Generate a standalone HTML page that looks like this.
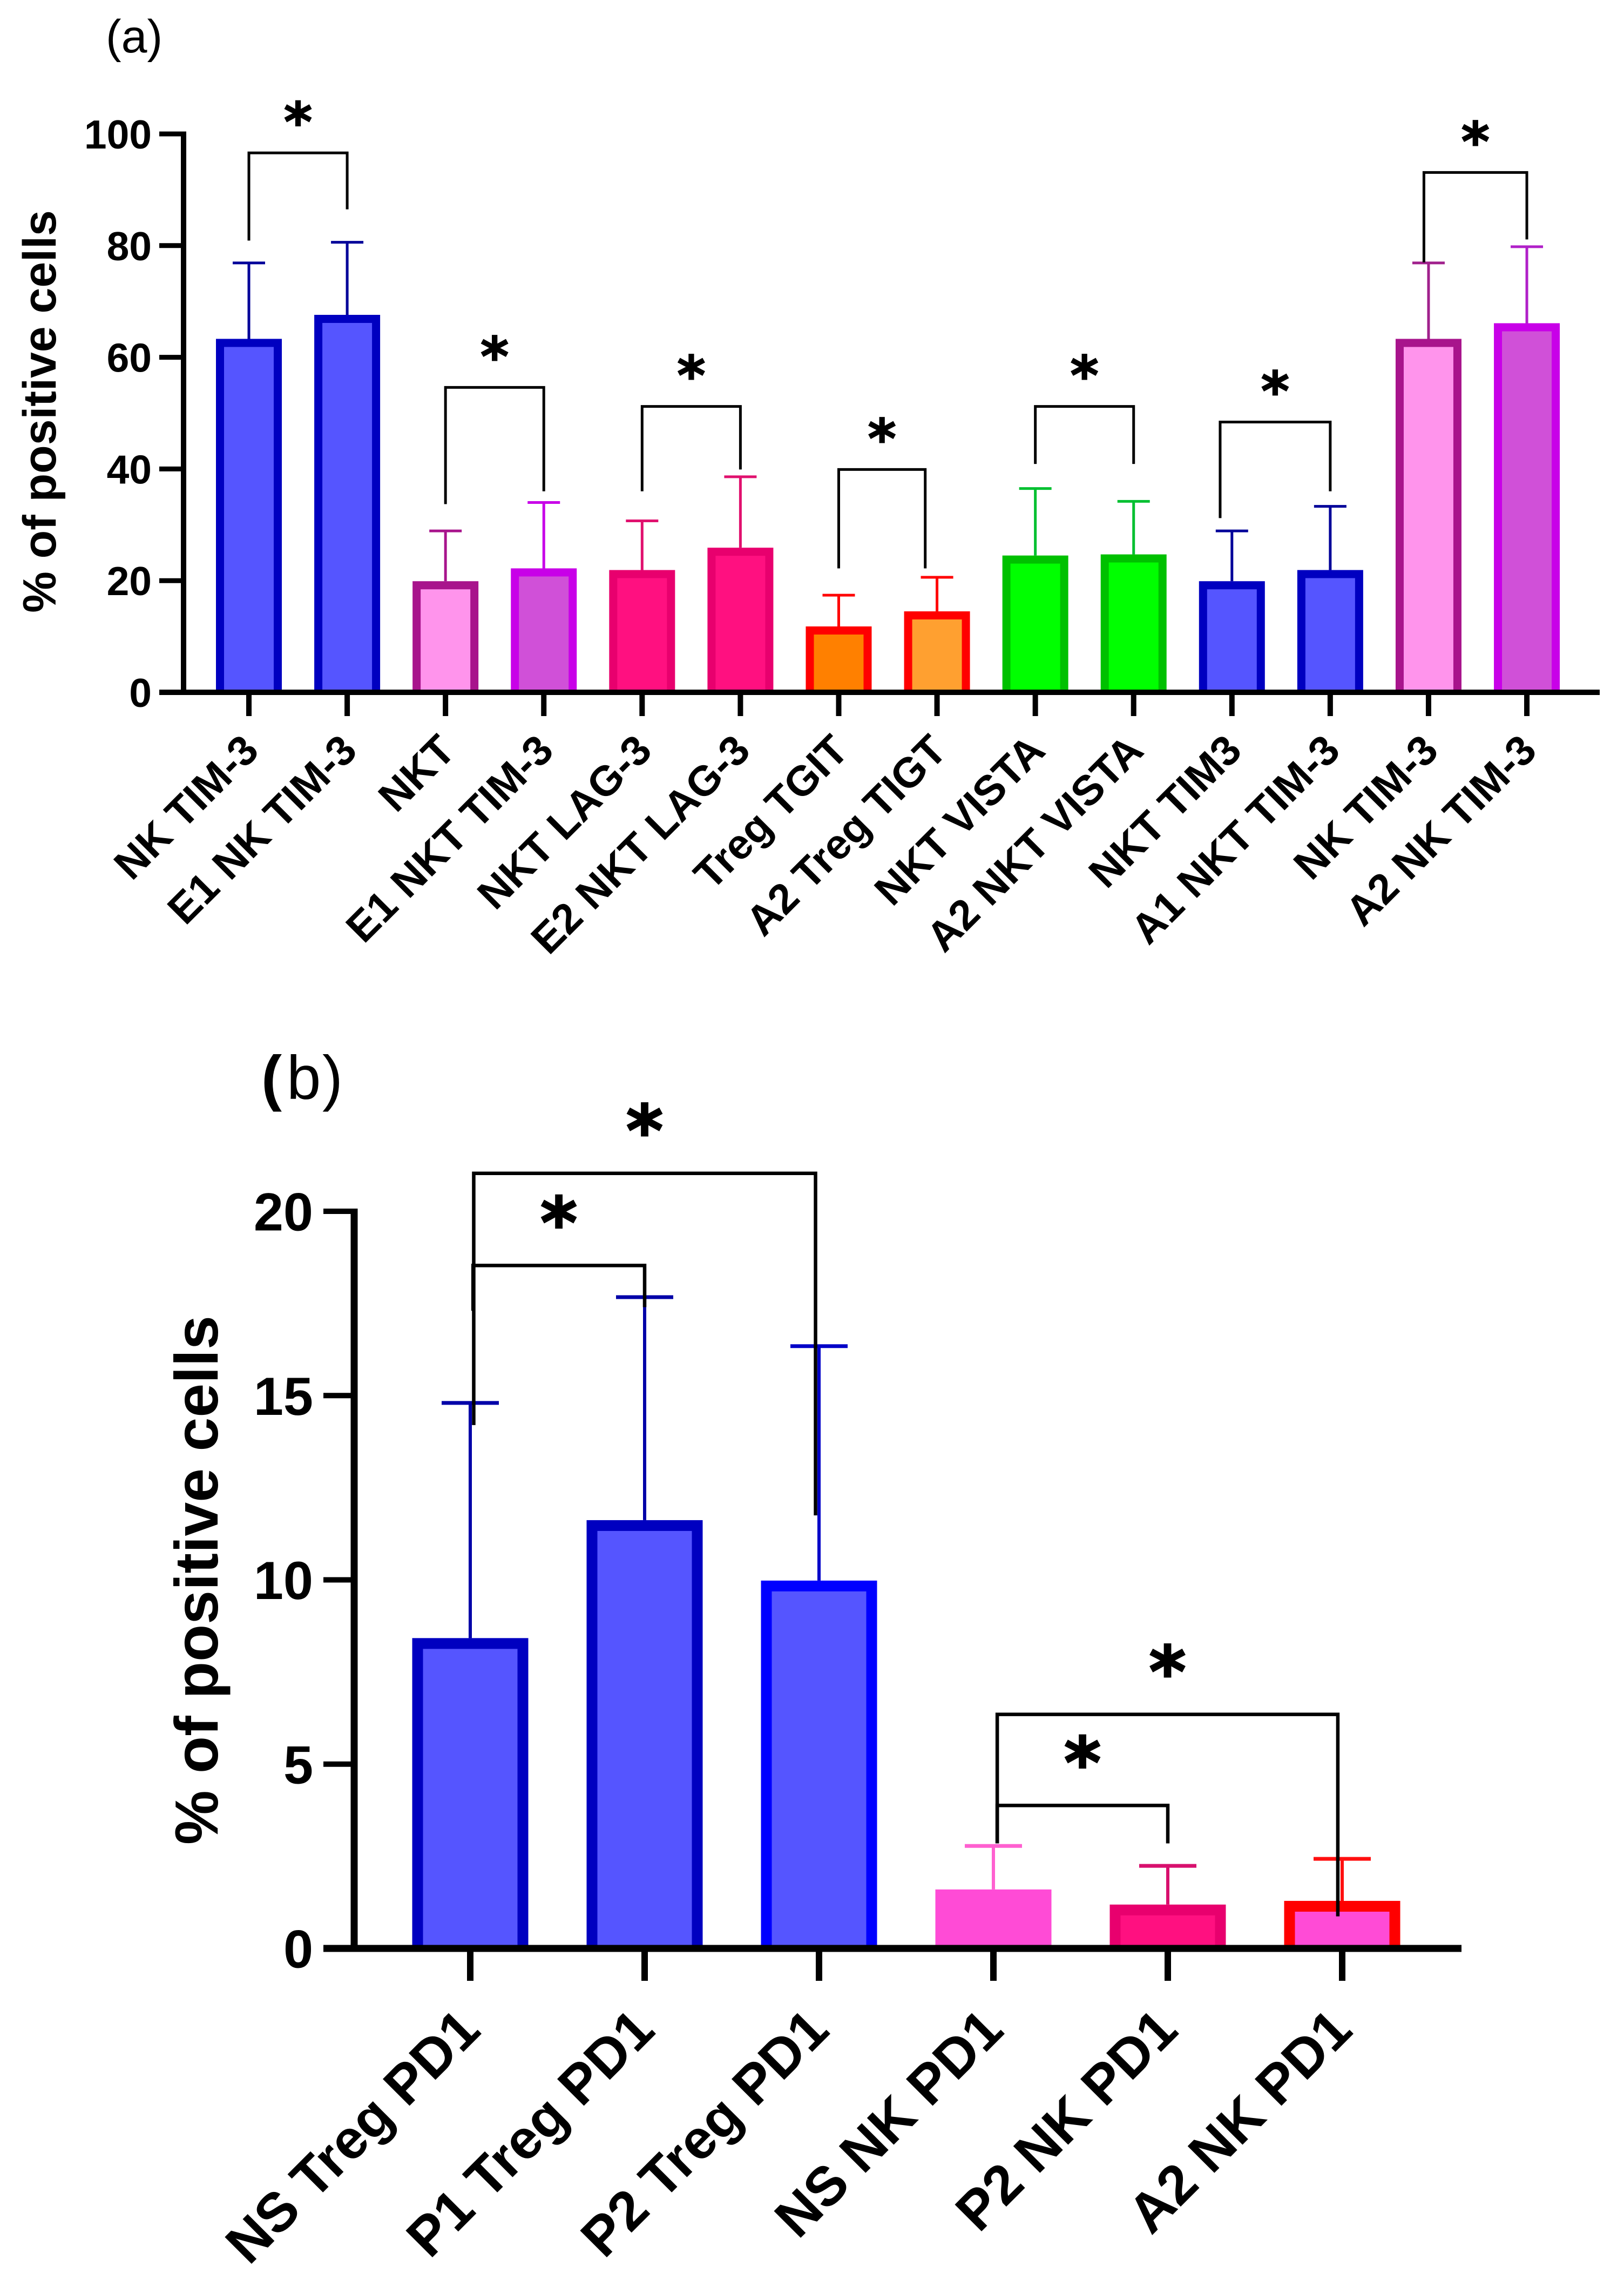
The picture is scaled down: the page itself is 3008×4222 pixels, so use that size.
<!DOCTYPE html>
<html lang="en">
<head>
<meta charset="utf-8">
<title>Percent of positive cells</title>
<style>
html,body{margin:0;padding:0;background:#fff;}
svg{display:block;}
text{font-family:"Liberation Sans",Arial,sans-serif;fill:#000;}
</style>
</head>
<body>
<svg id="figure" xmlns="http://www.w3.org/2000/svg" width="3008" height="4222" viewBox="0 0 3008 4222">
  <rect x="0" y="0" width="3008" height="4222" fill="#ffffff"/>
  <text x="196" y="97" font-size="86">(a)</text>
  <text y="2035" font-size="114"><tspan x="484" font-weight="700">(</tspan><tspan x="531">b</tspan><tspan x="597">)</tspan></text>
  <text transform="translate(103 762) rotate(-90)" text-anchor="middle" font-size="86" font-weight="700">% of positive cells</text>
  <text transform="translate(403 2926) rotate(-90)" text-anchor="middle" font-size="113" font-weight="700">% of positive cells</text>
  <g id="panel-a"></g>
  <g id="panel-b"></g>
</svg>
<script>
// Panel (a) data
const aCategories = ['NK TIM-3','E1 NK TIM-3','NKT','E1 NKT TIM-3','NKT LAG-3','E2 NKT LAG-3','Treg TGIT','A2 Treg TIGT','NKT VISTA','A2 NKT VISTA','NKT TIM3','A1 NKT TIM-3','NK TIM-3','A2 NK TIM-3'];
const aValues = [63.3,67.6,19.9,22.2,21.9,25.9,11.8,14.5,24.5,24.7,19.9,21.9,63.3,66.1];
const aUpper = [76.9,80.6,28.9,34.0,30.7,38.6,17.4,20.6,36.5,34.2,28.9,33.3,76.9,79.8];
const aTicks = [0,20,40,60,80,100];
const aFills = ['#5555ff','#5555ff','#ff94ec','#d050d8','#ff1080','#ff1080','#ff8000','#ffa030','#00ff00','#00ff00','#5555ff','#5555ff','#ff94ec','#d050d8'];
const aStrokes = ['#0000c0','#0000c0','#a8148c','#c800e8','#e8006e','#e8006e','#ff0000','#ff0000','#00c000','#00c000','#0000c0','#0000c0','#a8148c','#c800e8'];
const aErrColors = ['#000099','#000099','#a8148c','#c800e8','#e0106e','#e0106e','#ff0000','#ff0000','#00c030','#00c030','#000099','#000099','#a0208c','#b020c8'];
// Panel (a) significance brackets, in category units and axis values
const aBrFrom = [0,2,4,6,8,9.88,11.953];
const aBrTo = [1,3,5,6.88,9,11,13];
const aBrTop = [96.6,54.6,51.2,39.9,51.2,48.4,93.1];
const aBrLeftEnd = [80.9,33.7,36.0,22.2,40.9,31.2,77.0];
const aBrRightEnd = [86.5,36.0,39.9,22.2,40.9,36.0,81.1];

// Panel (b) data
const bCategories = ['NS Treg PD1','P1 Treg PD1','P2 Treg PD1','NS NK PD1','P2 NK PD1','A2 NK PD1'];
const bValues = [8.42,11.62,9.98,1.6,1.19,1.29];
const bUpper = [14.8,17.67,16.34,2.78,2.24,2.43];
const bTicks = [0,5,10,15,20];
const bFills = ['#5555ff','#5555ff','#5555ff','#ff4bd6','#ff1080','#ff4bd6'];
const bStrokes = ['#0000c0','#0000c0','#0000ff','#ff4bd6','#e8006e','#ff0000'];
const bErrColors = ['#0000a8','#0000a8','#0000c8','#ff60d0','#d8106e','#ff1010'];
const bBrFrom = [0.02,0.016,3.022,3.022];
const bBrTo = [1.98,1,4.975,4];
const bBrTop = [21.03,18.53,6.35,3.88];
const bBrLeftEnd = [14.2,17.3,2.85,2.85];
const bBrRightEnd = [11.75,17.4,0.87,2.85];

const SVGNS = 'http://www.w3.org/2000/svg';
function make(parent, tag, props, content){
  const el = document.createElementNS(SVGNS, tag);
  for (const k in props) el.setAttribute(k, props[k]);
  if (content !== undefined) el.textContent = content;
  parent.appendChild(el);
  return el;
}

function drawPanel(rootId, o){
  const root = document.getElementById(rootId);
  const x = i => o.x0 + o.band * i;
  const y = v => o.y0 - o.unit * v;
  o.categories.forEach((c, i) => {
    const cx = x(i);
    const top = y(o.values[i]);
    const err = make(root, 'line', {x1:cx, x2:cx, y1:top, y2:y(o.upper[i]), stroke:o.errColors[i], 'stroke-width':o.errW});
    
    
    const cap = make(root, 'line', {x1:cx-o.capW/2, x2:cx+o.capW/2, y1:y(o.upper[i]), y2:y(o.upper[i]), stroke:o.errColors[i], 'stroke-width':o.capH});
    
    
    const bar = make(root, 'rect', {x:cx-o.barW/2, y:top, width:o.barW, height:Math.max(0,o.y0-top), fill:o.strokes[i]});
    
    
    const fill = make(root, 'rect', {x:cx-o.barW/2+o.sw, y:top+o.sw, width:o.barW-2*o.sw, height:Math.max(0,o.y0-top-o.sw), fill:o.fills[i]});
    
    
  });
  // axes
  const yAxis = make(root, 'line', {x1:o.axisX, x2:o.axisX, y1:y(o.ticks[o.ticks.length-1])-o.tickH/2, y2:o.y0, stroke:'#000', 'stroke-width':o.axisW});
  
  
  const xAxis = make(root, 'line', {x1:o.tickLeft, x2:o.axisRight, y1:o.y0, y2:o.y0, stroke:'#000', 'stroke-width':o.xAxisW});
  
  
  o.ticks.forEach(t => {
    const tk = make(root, 'line', {x1:o.tickLeft, x2:o.axisX, y1:y(t), y2:y(t), stroke:'#000', 'stroke-width':o.tickH});
    
    
    const lb = make(root, 'text', {x:o.labelRight, y:y(t)+o.tickFont*0.36, 'text-anchor':'end', 'font-size':o.tickFont, 'font-weight':700}, String(t));
    
    
  });
  o.categories.forEach((c, i) => {
    const cx = x(i);
    const tk = make(root, 'line', {x1:cx, x2:cx, y1:o.y0, y2:o.xTickEnd, stroke:'#000', 'stroke-width':o.xTickW});
    
    
    const lb = make(root, 'text', {transform:'translate(' + (cx+o.labelDx) + ' ' + o.labelY + ') rotate(-45)', 'text-anchor':'end', 'font-size':o.labelFont, 'font-weight':700}, c);
    
    
  });
  // brackets
  o.brFrom.forEach((f, i) => {
    const xl = x(f), xr = x(o.brTo[i]), top = y(o.brTop[i]);
    const br = make(root, 'path', {d:'M' + xl + ' ' + y(o.brLeft[i]) + 'V' + top + 'H' + xr + 'V' + y(o.brRight[i]), fill:'none', stroke:'#000', 'stroke-width':o.brW});
    
    
    const st = make(root, 'text', {x:(xl+xr)/2, y:top-o.starGap+o.starFont*o.starShift, 'text-anchor':'middle', 'font-size':o.starFont, 'font-weight':700, stroke:'#000', 'stroke-width':o.starStroke, style:'font-family:"DejaVu Sans",sans-serif'}, '*');
    
    
  });
}

drawPanel('panel-a', {
  key:'a', categories:aCategories, values:aValues, upper:aUpper, ticks:aTicks,
  fills:aFills, strokes:aStrokes, errColors:aErrColors,
  brFrom:aBrFrom, brTo:aBrTo, brTop:aBrTop, brLeft:aBrLeftEnd, brRight:aBrRightEnd,
  x0:461, band:182.08, y0:1282, unit:10.34, barW:122, sw:15, errW:5, capW:60, capH:5,
  axisX:340, axisW:10, xAxisW:10, tickLeft:295, tickH:9, axisRight:2963, labelRight:281,
  xTickEnd:1326, xTickW:10, labelDx:22, labelY:1394, tickFont:75, labelFont:78,
  brW:5, starFont:100, starGap:70, starShift:0.48, starStroke:2
});
drawPanel('panel-b', {
  key:'b', categories:bCategories, values:bValues, upper:bUpper, ticks:bTicks,
  fills:bFills, strokes:bStrokes, errColors:bErrColors,
  brFrom:bBrFrom, brTo:bBrTo, brTop:bBrTop, brLeft:bBrLeftEnd, brRight:bBrRightEnd,
  x0:871, band:323, y0:3608, unit:68.25, barW:215, sw:20, errW:6, capW:106, capH:7,
  axisX:656, axisW:13, xAxisW:13, tickLeft:599, tickH:10, axisRight:2707, labelRight:580,
  xTickEnd:3668, xTickW:12, labelDx:23, labelY:3764, tickFont:99, labelFont:102,
  brW:6.5, starFont:130, starGap:94, starShift:0.465, starStroke:3
});
</script>
</body>
</html>
